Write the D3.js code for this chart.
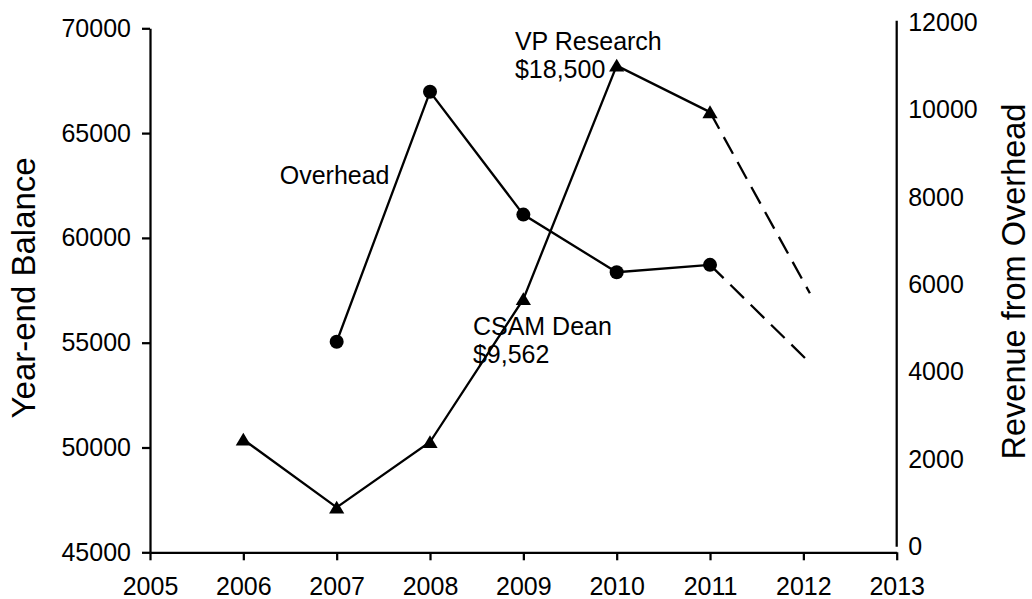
<!DOCTYPE html>
<html>
<head>
<meta charset="utf-8">
<script src="https://cdn.jsdelivr.net/npm/d3@7"></script>
<style>
  html, body { margin: 0; padding: 0; background: #fff; }
  svg { display: block; }
  text { font-family: "Liberation Sans", Arial, sans-serif; fill: #000; }
</style>
</head>
<body>
<svg id="chart" width="1032" height="599"></svg>
<script>
// ---- Data ----
const xTicks = [2005, 2006, 2007, 2008, 2009, 2010, 2011, 2012, 2013];
const leftTicks = [45000, 50000, 55000, 60000, 65000, 70000];
const rightTicks = [0, 2000, 4000, 6000, 8000, 10000, 12000];

// Year-end balance (triangles, left axis)
const balanceYears = [2006, 2007, 2008, 2009, 2010, 2011];
const balanceValues = [50380, 47140, 50260, 57080, 68220, 66000];
const balanceProjYears = [2011, 2012.07];
const balanceProjValues = [66000, 57360];

// Revenue from overhead (circles, right axis)
const overheadYears = [2007, 2008, 2009, 2010, 2011];
const overheadValues = [4690, 10410, 7600, 6280, 6450];
const overheadProjYears = [2011, 2012.04];
const overheadProjValues = [6450, 4270];

const leftTitle = "Year-end Balance";
const rightTitle = "Revenue from Overhead";
const annotations = [
  { lines: ["Overhead"], year: 2006.39, value: 8290 },
  { lines: ["VP Research", "$18,500"], year: 2008.91, value: 11360 },
  { lines: ["CSAM Dean", "$9,562"], year: 2008.46, value: 4840 }
];

// ---- Chart ----
const svg = d3.select("#chart");
const FS = 25;

const x = d3.scaleLinear().domain([2005, 2013]).range([150, 896.7]);
const yL = d3.scaleLinear().domain([45000, 70000]).range([552.3, 28.3]);
const yR = d3.scaleLinear().domain([0, 12000]).range([546.7, 22.3]);

// Axes
const gx = svg.append("g").attr("transform", `translate(0,${yL(45000)})`)
  .call(d3.axisBottom(x).tickValues(xTicks).tickFormat(d3.format("d"))
    .tickSize(8).tickSizeOuter(0).tickPadding(17));
const gl = svg.append("g").attr("transform", `translate(${x(2005)},0)`)
  .call(d3.axisLeft(yL).tickValues(leftTicks).tickFormat(d3.format("d"))
    .tickSize(8).tickSizeOuter(0).tickPadding(11));
const gr = svg.append("g").attr("transform", `translate(${x(2013)},0)`)
  .call(d3.axisRight(yR).tickValues(rightTicks).tickFormat(d3.format("d"))
    .tickSize(0).tickSizeOuter(0).tickPadding(11.5));

[gx, gl, gr].forEach(g => {
  g.selectAll("path.domain").attr("stroke", "#000").attr("stroke-width", 2.25);
  g.selectAll(".tick line").attr("stroke", "#000").attr("stroke-width", 2.25);
  g.selectAll("text").style("font-family", '"Liberation Sans", Arial, sans-serif')
    .style("font-size", FS + "px").attr("fill", "#000");
});
gr.select("path.domain").attr("d", `M0,${yR(0)}V${yR(12000) - 1.6}`);

// Axis titles
svg.append("text")
  .attr("transform", `translate(35,${(159 + 416.7) / 2}) rotate(-90)`)
  .attr("text-anchor", "middle")
  .style("font-size", "33px")
  .text(leftTitle);
svg.append("text")
  .attr("transform", `translate(1025,${(100 + 463) / 2}) rotate(-90)`)
  .attr("text-anchor", "middle")
  .style("font-size", "32.5px")
  .text(rightTitle);

// Lines
const lineL = d3.line().x(d => x(d[0])).y(d => yL(d[1]));
const lineR = d3.line().x(d => x(d[0])).y(d => yR(d[1]));

const balancePts = d3.zip(balanceYears, balanceValues);
const overheadPts = d3.zip(overheadYears, overheadValues);

svg.append("path").attr("d", lineR(d3.zip(overheadProjYears, overheadProjValues)))
  .attr("fill", "none").attr("stroke", "#000").attr("stroke-width", 2.3)
  .attr("stroke-dasharray", "19,9.5");
svg.append("path").attr("d", lineL(d3.zip(balanceProjYears, balanceProjValues)))
  .attr("fill", "none").attr("stroke", "#000").attr("stroke-width", 2.3)
  .attr("stroke-dasharray", "19,9.5");

svg.append("path").attr("d", lineR(overheadPts))
  .attr("fill", "none").attr("stroke", "#000").attr("stroke-width", 2.3);
svg.append("path").attr("d", lineL(balancePts))
  .attr("fill", "none").attr("stroke", "#000").attr("stroke-width", 2.3);

// Markers
svg.append("g").selectAll("circle").data(overheadPts).join("circle")
  .attr("cx", d => x(d[0])).attr("cy", d => yR(d[1])).attr("r", 7).attr("fill", "#000");
svg.append("g").selectAll("path").data(balancePts).join("path")
  .attr("transform", d => `translate(${x(d[0])},${yL(d[1])})`)
  .attr("d", "M0,-6.8L7.6,6L-7.6,6Z").attr("fill", "#000");

// Annotations
annotations.forEach(a => {
  const t = svg.append("text")
    .attr("x", x(a.year)).attr("y", yR(a.value))
    .style("font-size", FS + "px");
  a.lines.forEach((ln, i) => {
    t.append("tspan").attr("x", x(a.year)).attr("dy", i === 0 ? 0 : 27.6).text(ln);
  });
});
</script>
</body>
</html>
